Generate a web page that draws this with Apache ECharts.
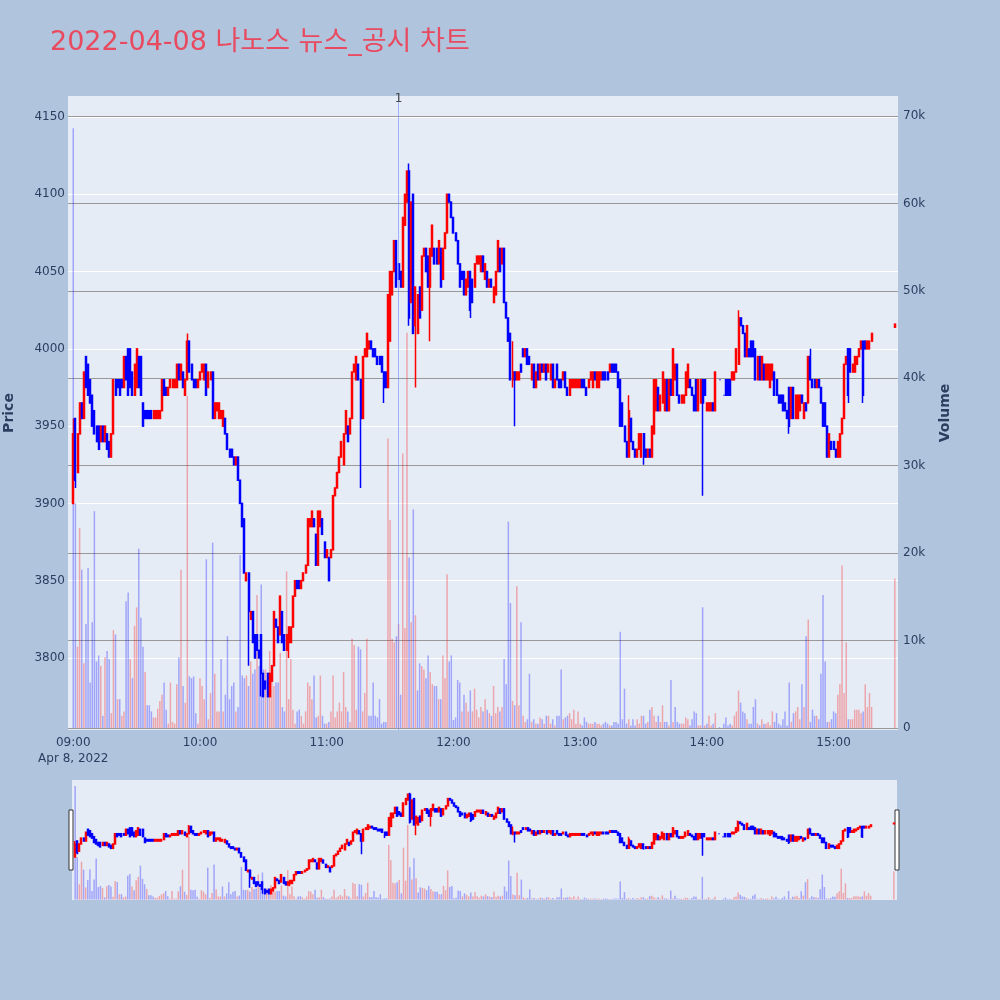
<!DOCTYPE html>
<html><head><meta charset="utf-8">
<script src="https://cdn.jsdelivr.net/npm/echarts@6/dist/echarts.min.js"></script>
<style>html,body{margin:0;padding:0;background:#B0C4DE}#c{width:1000px;height:1000px}</style>
</head><body><div id="c"></div>
<script>
const titleText = '2022-04-08 나노스 뉴스_공시 차트';
const dateLabel = 'Apr 8, 2022';
const sessionStart = '09:00';
const sessionEnd = '15:30';
const priceTicks = [3800, 3850, 3900, 3950, 4000, 4050, 4100, 4150];
const volumeTicks = [0, 10000, 20000, 30000, 40000, 50000, 60000, 70000];
const newsTime = '11:34';
const newsLabel = '1';
const previousClose = 3950;

// one entry per minute from 09:00 (null = no trade)
const opens = [
3900,3955,3920,3945,3965,3955,3995,3990,3980,3970,
3960,3950,3950,3940,3950,3940,3945,3940,3930,3945,
3980,3980,3980,3980,3975,3995,4000,4000,3985,3970,
3975,3995,3995,3965,3960,3960,3960,3960,3955,3955,
3955,3955,3960,3980,3975,3970,3975,3975,3975,3975,
3990,3980,3985,3970,3980,4005,3990,3980,3980,3975,
3980,3985,3980,3990,3975,3980,3985,3955,3960,3955,
3955,3950,3955,3945,3935,3935,3930,3925,3930,3915,
3900,3890,3850,3855,3825,3830,3815,3815,3805,3815,
3790,3785,3790,3775,3785,3795,3825,3820,3815,3830,
3815,3805,3810,3810,3820,3840,3850,3850,3845,3850,
3855,3860,3885,3885,3890,3880,3860,3885,3890,3875,
3865,3865,3865,3870,3905,3910,3920,3930,3925,3945,
3950,3945,3955,3985,3980,3990,3980,3955,3995,3995,
4000,4005,4000,4000,3995,3995,3995,3985,3985,3975,
4005,4035,4050,4070,4055,4050,4040,4080,4095,4115,
4030,4100,4015,4010,4040,4025,4060,4065,4060,4040,
4060,4065,4065,4055,4065,4045,4065,4075,4100,4095,
4085,4075,4070,4055,4050,4050,4035,4040,4050,4045,
4040,4055,4055,4050,4060,4045,4050,4040,4045,4030,
4035,4050,4065,4055,4065,4030,4020,4010,3980,3985,
3980,3980,3990,4000,3995,4000,3995,3980,3990,3975,
3990,3980,3990,3985,3990,3985,3980,3990,3975,3990,
3980,3980,3980,3985,3975,3970,3975,3975,3975,3975,
3975,3980,3980,3975,3975,3980,3975,3985,3975,3975,
3980,3985,3985,3985,3985,3990,3990,3990,3985,3980,
3965,3950,3940,3930,3955,3940,3935,3930,3935,3930,
3945,3935,3930,3935,3930,3945,3960,3975,3960,3965,
3960,3980,3960,3980,3970,3980,3990,3970,3965,3965,
3970,3975,3980,3975,3970,3980,3960,3965,3980,3980,
3960,3960,3960,3965,3960,null,3980,null,3970,3980,
3980,3980,3980,3980,3985,3990,4020,4015,4010,3995,
4000,4005,4005,4000,3980,3995,3980,3990,3980,3980,
3975,3980,3985,3980,3970,3970,3970,3965,3960,3975,
3955,3975,3955,3955,3960,3970,3955,3965,3965,3995,
3980,3980,3975,3980,3975,3965,3965,3950,3930,3940,
3940,3935,3930,3930,3945,3955,3990,4000,4000,3985,
3985,3990,3995,4000,4005,4005,4000,4000,4005
];
const closes = [
3945,3915,3945,3965,3955,3985,3975,3970,3965,3950,
3945,3940,3935,3950,3940,3950,3935,3930,3945,3980,
3970,3975,3970,3975,3995,3980,3970,3975,3970,3990,
4000,3975,3970,3950,3955,3955,3955,3955,3960,3960,
3960,3960,3980,3970,3970,3975,3980,3980,3980,3990,
3980,3990,3975,3980,4005,3985,3980,3975,3975,3980,
3985,3990,3990,3970,3985,3985,3955,3965,3965,3965,
3960,3960,3945,3935,3930,3930,3925,3930,3915,3900,
3885,3855,3855,3830,3830,3810,3800,3805,3800,3790,
3775,3780,3775,3790,3795,3830,3820,3810,3840,3810,
3805,3815,3820,3820,3840,3850,3845,3845,3850,3855,
3860,3890,3890,3895,3885,3860,3895,3895,3880,3865,
3870,3850,3870,3905,3910,3920,3930,3940,3945,3960,
3940,3955,3985,3990,3995,3980,3955,3995,4000,4010,
4005,4000,3995,3995,3990,3990,3985,3975,3975,4035,
4050,4050,4070,4040,4045,4040,4085,4100,4115,4020,
4095,4010,4040,4035,4020,4060,4065,4050,4040,4065,
4080,4055,4055,4070,4040,4065,4075,4100,4095,4085,
4075,4070,4055,4040,4045,4035,4045,4050,4025,4030,
4055,4060,4060,4060,4050,4055,4040,4045,4040,4040,
4050,4070,4050,4065,4030,4020,4005,3980,3985,3980,
3985,3985,3985,3995,4000,3990,3990,3990,3975,3985,
3980,3990,3985,3990,3980,3990,3990,3975,3980,3980,
3975,3975,3985,3975,3970,3980,3980,3980,3980,3980,
3980,3975,3975,3970,3980,3985,3985,3980,3985,3985,
3985,3980,3980,3980,3990,3985,3985,3985,3975,3950,
3950,3940,3930,3960,3940,3935,3930,3935,3945,3945,
3930,3930,3935,3930,3950,3980,3980,3960,3970,3985,
3980,3960,3980,3970,4000,3990,3970,3965,3970,3970,
3985,3990,3975,3970,3960,3960,3980,3980,3965,3970,
3965,3965,3965,3960,3985,null,3980,null,3970,3970,
3970,3970,3985,3985,4000,4020,4015,4010,3995,4015,
3995,3995,3995,3980,3995,3980,3995,3980,3990,3990,
3990,3990,3970,3970,3965,3965,3960,3960,3955,3950,
3975,3955,3970,3970,3970,3965,3965,3960,3995,3980,
3975,3975,3980,3975,3965,3950,3950,3930,3945,3935,
3935,3930,3940,3945,3955,3990,3995,3970,3985,3990,
3995,3995,4000,4005,3970,4000,4005,4005,4010
];
// volume per minute, thousands of shares
const volumeK = [
68.6,25.7,9.3,22.9,18.1,7.4,11.9,18.3,5.2,12.1,
24.8,7.6,8.3,7.1,1.4,8.1,8.8,7.9,1.7,11.2,
10.7,3.3,3.3,1.4,1.9,14.5,15.5,7.9,5.7,11.7,
13.8,20.5,12.6,9.3,6.4,2.6,2.6,1.9,1.2,1.2,
2.2,3.1,3.8,5.2,2.1,0.5,5.2,0.7,0.5,5.0,
8.1,18.1,4.8,2.9,38.0,5.9,5.7,5.9,1.7,0.5,
5.7,4.8,3.3,19.3,1.0,4.0,21.2,6.2,1.9,1.9,
7.9,1.9,3.8,10.5,3.3,4.8,5.2,1.9,2.4,19.8,
6.0,5.7,6.0,4.8,7.6,6.2,6.7,15.2,7.1,16.4,
6.7,6.7,5.7,8.8,6.2,4.8,5.2,5.2,8.6,2.4,
1.9,17.9,3.3,7.9,2.1,0.5,1.9,2.1,1.4,0.5,
1.9,5.2,4.8,3.3,6.0,1.2,1.4,6.0,1.4,0.5,
0.5,0.7,1.9,6.0,1.2,1.9,2.9,1.9,6.4,2.4,
1.9,0.7,10.2,9.5,2.1,9.3,9.0,1.9,4.0,10.2,
1.4,1.4,5.2,1.4,1.2,3.3,0.5,0.7,0.7,33.1,
23.8,10.2,9.8,10.5,11.9,3.8,31.4,11.4,45.2,19.5,
12.1,25.0,12.9,4.3,7.4,7.1,6.7,5.7,8.3,6.4,
5.0,4.8,4.8,3.3,3.3,8.3,5.7,17.6,7.6,8.3,
0.9,1.2,5.5,5.2,1.9,3.8,2.9,1.9,4.3,1.9,
4.5,2.1,1.2,2.4,1.9,3.3,2.1,1.7,1.4,4.8,
1.7,2.4,1.9,2.4,7.9,5.0,23.6,14.3,3.1,2.6,
16.2,2.6,12.1,1.4,0.7,1.0,6.2,0.7,1.0,0.5,
0.5,1.2,1.0,0.5,1.4,1.4,0.5,1.0,0.3,1.4,
1.4,6.7,1.0,1.2,1.4,1.7,1.0,2.1,0.5,1.9,
0.5,0.3,1.2,0.7,0.5,0.5,0.5,0.7,0.5,0.5,
0.3,0.5,0.7,0.5,0.3,0.3,0.7,0.7,0.5,11.0,
1.0,4.5,0.5,1.0,0.3,1.0,0.3,1.0,0.5,1.4,
1.4,0.5,0.7,2.1,2.4,1.4,0.7,1.4,0.7,2.6,
0.7,0.7,0.3,5.5,0.7,2.4,0.7,0.5,0.5,0.5,
1.2,1.0,0.3,1.0,1.9,1.7,0.3,0.3,13.8,0.3,
0.5,1.4,0.3,0.5,1.7,null,0.1,null,0.5,1.2,
0.3,0.5,0.3,1.4,1.9,4.3,2.9,1.9,1.7,1.0,
0.5,0.5,2.4,3.3,0.5,0.3,1.0,0.5,0.5,0.7,
0.3,1.9,0.7,1.7,0.5,0.3,1.0,1.9,0.3,5.2,
0.7,1.7,1.9,2.4,1.0,5.0,2.4,10.5,12.4,0.7,
2.1,1.4,1.4,1.0,6.2,15.2,7.6,0.7,0.7,1.0,
1.9,1.7,3.8,5.0,18.6,4.0,9.8,1.0,1.0,1.0,
2.1,2.1,2.1,1.7,1.9,5.0,2.4,4.0,2.4
];
// [minute index, price] for wicks reaching beyond the body
const highWicks = [[0,3955],[54,4010],[159,4120],[208,4005],[263,3970],[315,4025],[349,4000]];
const lowWicks = [[1,3910],[83,3795],[89,3775],[102,3800],[136,3910],[147,3965],[159,4015],[162,3975],[169,4005],[188,4020],[208,3975],[209,3950],[270,3925],[298,3905],[339,3945],[367,3965],[374,3965]];
// closing single-price auction
const auctionTime = '15:29';
const auctionOpen = 4014;
const auctionClose = 4016;
const auctionVolumeK = 17.1;

function toMin(s){ const p = s.split(':'); return (+p[0])*60 + (+p[1]); }
function fmt(t){ const h = Math.floor(t/60), m = t%60; return (h<10?'0':'')+h+':'+(m<10?'0':'')+m; }
const startMin = toMin(sessionStart), endMin = toMin(sessionEnd);
const PAD = 2;
const categories = [];
for (let t = startMin - PAD; t <= endMin; t++) categories.push(fmt(t));

const hiMap = new Map(highWicks), loMap = new Map(lowWicks);
const candleData = [], volData = [];
let prevClose = previousClose;
categories.forEach((c, i) => {
  const m = i - PAD;
  let o = null, cl = null, v = null;
  if (m >= 0 && m < opens.length && opens[m] != null) { o = opens[m]; cl = closes[m]; v = volumeK[m] * 1000; }
  else if (c === auctionTime) { o = auctionOpen; cl = auctionClose; v = auctionVolumeK * 1000; }
  if (o == null) { candleData.push('-'); volData.push('-'); return; }
  const hi = Math.max(o, cl, hiMap.has(m) ? hiMap.get(m) : -Infinity);
  const lo = Math.min(o, cl, loMap.has(m) ? loMap.get(m) : Infinity);
  candleData.push([o, cl, lo, hi]);
  const up = cl > prevClose ? true : (cl < prevClose ? false : cl >= o);
  prevClose = cl;
  volData.push({ value: v, itemStyle: { color: up ? 'rgba(255,0,0,0.3)' : 'rgba(0,0,255,0.3)' } });
});

const FONT = '"DejaVu Sans", "Noto Sans CJK KR", sans-serif';
const TXT = '#2a3f5f';
const P_MIN = 3753.4, P_MAX = 4163.6, V_MIN = -229, V_MAX = 72288;

const candleStyle = { color: '#ff0000', color0: '#0000ff', borderColor: '#ff0000', borderColor0: '#0000ff', borderWidth: 1.5 };

const option = {
  backgroundColor: '#B0C4DE',
  animation: false,
  title: { text: titleText, left: 50, top: 29, padding: 0, textStyle: { color: '#e84a5f', fontSize: 27, fontWeight: 'normal', fontFamily: FONT } },
  grid: [
    { left: 68, top: 96, width: 830, height: 634, show: true, backgroundColor: '#E5ECF6', borderWidth: 0, containLabel: false, outerBoundsMode: 'none' },
    { left: 72, top: 780, width: 825, height: 120, show: true, backgroundColor: '#E5ECF6', borderWidth: 0, containLabel: false, outerBoundsMode: 'none' }
  ],
  xAxis: [
    { type: 'category', gridIndex: 0, data: categories, boundaryGap: true,
      axisLine: { show: false }, axisTick: { show: false }, splitLine: { show: false },
      axisLabel: { interval: (i, v) => i >= PAD && v.endsWith(':00'),
        formatter: (v, i) => (v === sessionStart ? v + '\n' + dateLabel : v),
        color: TXT, fontSize: 12, fontFamily: FONT, margin: 5, lineHeight: 16 } },
    { type: 'category', gridIndex: 1, data: categories, boundaryGap: true, min: 1, show: false }
  ],
  yAxis: [
    { type: 'value', gridIndex: 0, position: 'left', min: P_MIN, max: P_MAX,
      name: 'Price', nameLocation: 'middle', nameGap: 52,
      nameTextStyle: { color: TXT, fontSize: 14, fontWeight: 'bold', fontFamily: FONT },
      axisLine: { show: false }, axisTick: { show: false, customValues: priceTicks },
      axisLabel: { customValues: priceTicks, color: TXT, fontSize: 12, fontFamily: FONT, margin: 3, formatter: v => String(v) },
      splitLine: { show: true, lineStyle: { color: '#ffffff', width: 1 } } },
    { type: 'value', gridIndex: 0, position: 'right', min: V_MIN, max: V_MAX,
      name: 'Volume', nameLocation: 'middle', nameGap: 40,
      nameTextStyle: { color: TXT, fontSize: 14, fontWeight: 'bold', fontFamily: FONT },
      axisLine: { show: false }, axisTick: { show: false, customValues: volumeTicks },
      axisLabel: { customValues: volumeTicks, color: TXT, fontSize: 12, fontFamily: FONT, margin: 5,
        formatter: v => (v === 0 ? '0' : (v / 1000) + 'k') },
      splitLine: { show: true, lineStyle: { color: '#999999', width: 1 } } },
    { type: 'value', gridIndex: 1, min: P_MIN, max: P_MAX, show: false, splitLine: { show: false } },
    { type: 'value', gridIndex: 1, min: V_MIN, max: V_MAX, show: false, splitLine: { show: false } }
  ],
  series: [
    { type: 'bar', xAxisIndex: 0, yAxisIndex: 1, data: volData, barWidth: 1.5, silent: true },
    { type: 'candlestick', xAxisIndex: 0, yAxisIndex: 0, data: candleData, barWidth: 1.5, itemStyle: candleStyle, silent: true,
      markLine: { silent: true, symbol: ['none', 'none'], animation: false,
        lineStyle: { color: 'rgba(110,140,255,0.6)', width: 1, type: 'solid' },
        label: { show: true, position: 'end', formatter: newsLabel, color: '#444', fontSize: 12, fontFamily: FONT, distance: -9 },
        data: [{ xAxis: newsTime }] } },
    { type: 'bar', xAxisIndex: 1, yAxisIndex: 3, data: volData, barWidth: 1.5, silent: true },
    { type: 'candlestick', xAxisIndex: 1, yAxisIndex: 2, data: candleData, barWidth: 1.5, itemStyle: candleStyle, silent: true }
  ],
  graphic: [
    { type: 'rect', shape: { x: 69, y: 810, width: 4, height: 60 }, style: { fill: '#ffffff', stroke: '#333333', lineWidth: 1 } },
    { type: 'rect', shape: { x: 895, y: 810, width: 4, height: 60 }, style: { fill: '#ffffff', stroke: '#333333', lineWidth: 1 } }
  ]
};
const chart = echarts.init(document.getElementById('c'), null, { renderer: 'canvas' });
chart.setOption(option);
</script></body></html>
